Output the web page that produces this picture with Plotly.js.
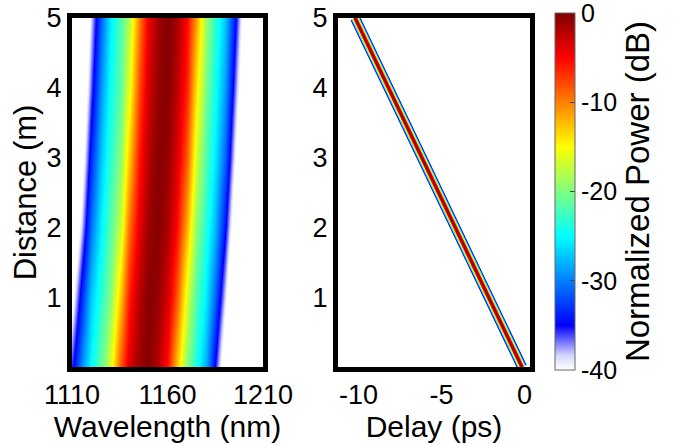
<!DOCTYPE html>
<html>
<head>
<meta charset="utf-8">
<script src="https://cdn.plot.ly/plotly-3.0.1.min.js"></script>
<style>
  html, body { margin: 0; padding: 0; background: #ffffff; }
  #chart { width: 682px; height: 444px; }
</style>
</head>
<body>
<div id="chart"></div>
<script>
// ---- Data ----
// Left panel: spectral evolution (dB) vs wavelength (nm) and distance (m)
const wavelengths = [1105, 1110, 1115, 1120, 1125, 1130, 1135, 1140, 1145, 1150, 1155, 1160,
                     1165, 1170, 1175, 1180, 1185, 1190, 1195, 1200, 1205, 1210, 1215];
const distances = [0, 1, 2, 3, 4, 5];
const spectrumDb = [
  [-46.9, -35.5, -29.4, -24.9, -21.2, -16.7, -8.7, -3.7, -1.0, -0.2, -2.1, -5.8, -12.8, -19.8, -23.9, -28.2, -35.1, -43.1, -50, -50, -50, -50, -50],
  [-50, -40.9, -33.2, -27.1, -23.4, -20.0, -13.2, -6.0, -2.2, -0.2, -0.9, -3.5, -8.4, -16.4, -21.8, -25.6, -30.9, -38.6, -46.6, -50, -50, -50, -50],
  [-50, -45.6, -38.0, -30.5, -25.4, -21.8, -17.4, -9.4, -4.1, -1.1, -0.1, -1.8, -5.3, -11.9, -19.3, -23.6, -27.7, -34.3, -42.3, -50, -50, -50, -50],
  [-50, -50, -41.3, -33.5, -27.3, -23.4, -19.9, -13.0, -5.9, -2.2, -0.2, -0.9, -3.6, -8.5, -16.5, -21.9, -25.7, -31.0, -38.8, -46.8, -50, -50, -50],
  [-50, -50, -44.1, -36.4, -29.2, -24.7, -21.6, -16.0, -8.0, -3.3, -0.8, -0.2, -2.4, -6.3, -13.7, -20.3, -24.3, -28.7, -35.9, -43.9, -50, -50, -50],
  [-50, -50, -46.4, -38.6, -31.2, -25.8, -22.2, -18.1, -10.1, -4.5, -1.3, 0, -1.6, -5.0, -11.0, -18.8, -23.2, -27.1, -33.5, -41.5, -50, -50, -50]
];
const wavelengthTicks = [1110, 1160, 1210];

// Right panel: pulse peak delay (ps) vs distance (m)
const pulseDistances = [0, 1, 2, 3, 4, 5];
const pulseDelay = [-0.15, -2.16, -4.17, -6.18, -8.19, -10.2];
const pulseLevelsDb = [-35, -25, -15, -5, -1];   // intensity levels of the trace envelope
const delayTicks = [-10, -5, 0];
const distanceTicks = [1, 2, 3, 4, 5];
const colorbarTicks = [-40, -30, -20, -10, 0];

// ---- Styling ----
const FONT = 'Liberation Sans, Arial, Helvetica, sans-serif';
const colorscale = [
  [0.0, 'rgb(255,255,255)'],
  [0.04, 'rgb(215,215,255)'],
  [0.125, 'rgb(0,0,255)'],
  [0.375, 'rgb(0,255,255)'],
  [0.625, 'rgb(255,255,0)'],
  [0.875, 'rgb(255,0,0)'],
  [1.0, 'rgb(128,0,0)']
];
function colorAt(db) {
  const f = Math.max(0, Math.min(1, (db + 40) / 40));
  for (let i = 1; i < colorscale.length; i++) {
    if (f <= colorscale[i][0]) {
      const a = colorscale[i - 1], b = colorscale[i];
      const t = (f - a[0]) / (b[0] - a[0]);
      const ca = a[1].match(/\d+/g).map(Number), cb = b[1].match(/\d+/g).map(Number);
      const c = ca.map((v, k) => Math.round(v + (cb[k] - v) * t));
      return 'rgb(' + c.join(',') + ')';
    }
  }
  return colorscale[colorscale.length - 1][1];
}
const levelWidths = [10, 8, 6, 4, 2];

const traces = [];
traces.push({
  type: 'heatmap',
  x: wavelengths, y: distances, z: spectrumDb,
  xaxis: 'x', yaxis: 'y',
  zmin: -40, zmax: 0,
  zsmooth: 'best',
  colorscale: colorscale,
  hoverinfo: 'skip',
  showscale: true,
  colorbar: {
    x: 555 / 682, xanchor: 'left', xpad: 0,
    y: (367 - 191.5) / 349, yanchor: 'middle', ypad: 0,
    lenmode: 'pixels', len: 357,
    thickness: 20, thicknessmode: 'pixels',
    outlinewidth: 1, outlinecolor: '#666',
    ticks: 'inside', ticklen: 5, tickcolor: '#444', tickwidth: 1,
    tickvals: colorbarTicks, ticktext: colorbarTicks.map(String),
    ticklabeloverflow: 'allow',
    tickfont: { family: FONT, size: 25, color: '#000' },
    title: { text: 'Normalized Power (dB)', side: 'right', font: { family: FONT, size: 33, color: '#000' } }
  }
});
pulseLevelsDb.forEach((db, i) => {
  traces.push({
    type: 'scatter', mode: 'lines',
    x: pulseDelay, y: pulseDistances,
    xaxis: 'x2', yaxis: 'y2',
    line: { color: colorAt(db), width: levelWidths[i] },
    hoverinfo: 'skip', showlegend: false
  });
});

const axisCommon = {
  showline: true, mirror: true, linewidth: 5, linecolor: '#000',
  showgrid: false, zeroline: false, ticks: '',
  tickfont: { family: FONT, size: 27, color: '#000' }
};

const layout = {
  width: 682, height: 444,
  margin: { l: 0, r: 0, t: 18, b: 77 },
  paper_bgcolor: '#fff', plot_bgcolor: '#fff',
  font: { family: FONT, color: '#000' },
  showlegend: false,
  xaxis: Object.assign({}, axisCommon, {
    domain: [72 / 682, 263 / 682], range: [1110, 1210],
    tickvals: wavelengthTicks, ticktext: wavelengthTicks.map(String),
    title: { text: 'Wavelength (nm)', standoff: 0, font: { family: FONT, size: 30, color: '#000' } },
    anchor: 'y'
  }),
  yaxis: Object.assign({}, axisCommon, {
    domain: [0, 1], range: [0, 5],
    tickvals: distanceTicks, ticktext: distanceTicks.map(String),
    title: { text: 'Distance (m)', standoff: 2, font: { family: FONT, size: 31, color: '#000' } },
    anchor: 'x'
  }),
  xaxis2: Object.assign({}, axisCommon, {
    domain: [338 / 682, 530 / 682], range: [-11.23, 0.33],
    tickvals: delayTicks, ticktext: delayTicks.map(String),
    title: { text: 'Delay (ps)', standoff: 0, font: { family: FONT, size: 30, color: '#000' } },
    anchor: 'y2'
  }),
  yaxis2: Object.assign({}, axisCommon, {
    domain: [0, 1], range: [0, 5],
    tickvals: distanceTicks, ticktext: distanceTicks.map(String),
    anchor: 'x2'
  })
};

Plotly.newPlot('chart', traces, layout, { staticPlot: true, displayModeBar: false });
</script>
</body>
</html>
